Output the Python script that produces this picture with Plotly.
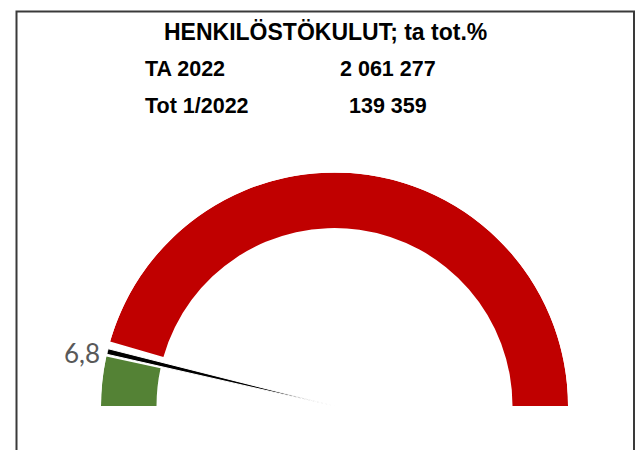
import plotly.graph_objects as go

# ---- data ----
title_text = "HENKILÖSTÖKULUT; ta tot.%"
row_labels = ["TA 2022", "Tot 1/2022"]
row_values = ["2 061 277", "139 359"]
gauge_value = 6.8      # realised percentage
gauge_total = 100.0    # full scale

# ---- style ----
W, H = 643, 450
cx, cy, R = 334.5, 406.0, 233.5      # gauge centre / outer radius in px
hole = 178.0 / 233.5
gap_after = 2.1       # % of scale left blank after the value
needle_offset = 0.7   # % shift of the pointer inside the blank
needle_half = 0.7     # degrees
green, red = "#548235", "#C00000"

deg = 180.0 / gauge_total
rmin = -hole / (1 - hole)   # radial value that lands on the centre

fig = go.Figure()

# green (achieved) segment
fig.add_trace(go.Barpolar(
    theta=[gauge_value * deg / 2], width=[gauge_value * deg],
    r=[1], base=[0], marker=dict(color=green, line=dict(width=0)),
    hoverinfo="skip", showlegend=False))

# red (remaining) segment
red_start = gauge_value + gap_after
fig.add_trace(go.Barpolar(
    theta=[(red_start + gauge_total) * deg / 2],
    width=[(gauge_total - red_start) * deg],
    r=[1], base=[0], marker=dict(color=red, line=dict(width=0)),
    hoverinfo="skip", showlegend=False))

# needle
na = (gauge_value + needle_offset) * deg
fig.add_trace(go.Scatterpolar(
    theta=[na - needle_half, na + needle_half, na, na - needle_half],
    r=[1.0, 1.0, rmin, 1.0], mode="lines", fill="toself",
    fillcolor="black", line=dict(color="white", width=1),
    hoverinfo="skip", showlegend=False))

fig.update_layout(
    width=W, height=H,
    margin=dict(l=0, r=0, t=0, b=0),
    paper_bgcolor="white", plot_bgcolor="white",
    polar=dict(
        domain=dict(x=[(cx - R) / W, (cx + R) / W],
                    y=[(H - cy) / H, (H - cy + R) / H]),
        sector=[0, 180],
        bgcolor="rgba(0,0,0,0)",
        bargap=0,
        radialaxis=dict(range=[rmin, 1], visible=False),
        angularaxis=dict(rotation=180, direction="clockwise",
                         visible=False, showgrid=False),
    ),
)

txt_font = dict(family="Liberation Sans, Arial", color="black")
ann = [
    dict(text="<b>%s</b>" % title_text, x=325 / W, y=1 - 32 / H,
         xanchor="center", yanchor="middle",
         font=dict(size=23, **txt_font)),
]
row_y = [69, 106]
for lab, val, yy in zip(row_labels, row_values, row_y):
    ann.append(dict(text="<b>%s</b>" % lab, x=143 / W, y=1 - yy / H,
                    xanchor="left", yanchor="middle",
                    font=dict(size=21.5, **txt_font)))
    ann.append(dict(text="<b>%s</b>" % val, x=388 / W, y=1 - yy / H,
                    xanchor="center", yanchor="middle",
                    font=dict(size=21.5, **txt_font)))
ann.append(dict(text=f"{gauge_value:.1f}".replace(".", ","),
                x=102 / W, y=1 - 353 / H, xanchor="right", yanchor="middle",
                font=dict(size=26, family="Lato, Carlito, sans-serif",
                          color="#595959")))
for a in ann:
    a.update(xref="paper", yref="paper", showarrow=False)
fig.update_layout(annotations=ann)

# frame around the picture (open at the bottom, cut by the image edge)
x0, x1, yt = 16.5 / W, 634 / W, 1 - 11.5 / H
fig.add_shape(type="path", xref="paper", yref="paper",
              path=f"M {x0},-0.1 L {x0},{yt} L {x1},{yt} L {x1},-0.1",
              line=dict(color="#3a3a3a", width=2))

fig.write_html("out.html",
               config=dict(displayModeBar=False),
               post_script="document.body.style.margin='0';"
                           "document.body.style.overflow='hidden';")
